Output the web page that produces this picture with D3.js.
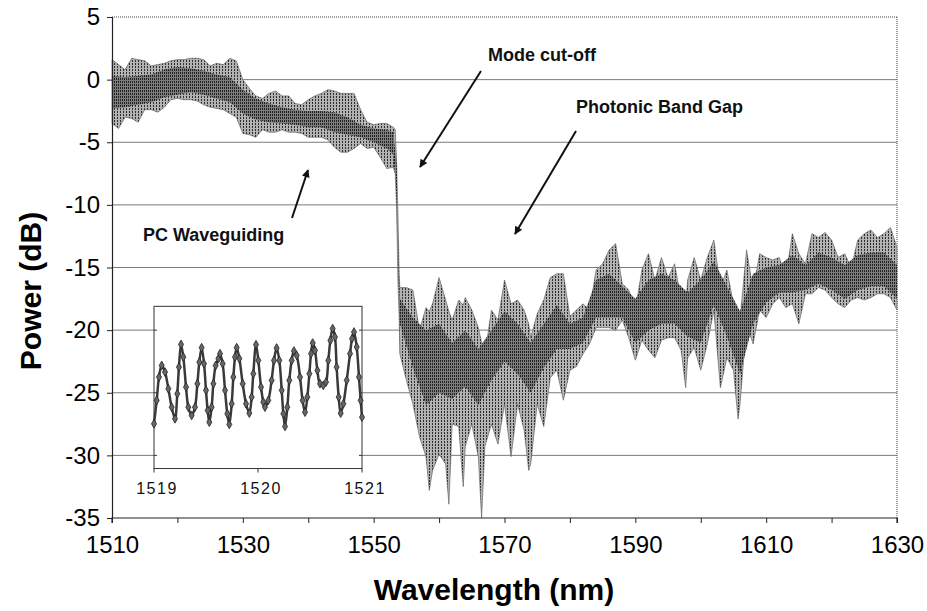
<!DOCTYPE html>
<html>
<head>
<meta charset="utf-8">
<script src="https://cdn.jsdelivr.net/npm/d3@7"></script>
<style>
  body { margin: 0; background: #fff; }
  svg text { font-family: "Liberation Sans", Arial, Helvetica, sans-serif; }
</style>
</head>
<body>
<svg id="chart"></svg>
<script>
// spectrum envelope (upper / lower edge of the fringe band)
const wavelength = [1510,1511,1512,1513,1514,1515,1516,1517,1518,1519,1520,1521,1522,1523,1524,1525,1526,1527,1528,1529,
  1530,1531,1532,1533,1534,1535,1536,1537,1538,1539,1540,1541,1542,1543,1544,1545,1546,1547,1548,1549,1550,1551,1552,1553,
  1553.3,1553.5,1553.7,1553.9,1554,1555,1556,1557,1558,1558.5,1559,1560,1561,1561.5,1562,1563,1563.7,1564,1565,1566,1566.5,
  1567,1568,1569,1570,1571,1572,1573,1573.7,1574,1575,1576,1577,1578,1579,1580,1581,1582,1583,1584,1585,1586,1587,1588,1589,
  1590,1591,1592,1593,1594,1595,1596,1597,1597.7,1598,1599,1600,1601,1602,1603,1604,1605,1605.7,1606,1607,1608,1609,1610,
  1611,1612,1613,1614,1615,1616,1617,1618,1619,1620,1621,1622,1623,1624,1625,1626,1627,1628,1629,1630];
const powerHi = [1.6,1.2,0.8,1.7,1.6,1.5,1.1,1.2,1.3,1.5,1.6,1.6,1.7,1.7,1.6,1.1,1.3,1.2,1.7,1.5,
  0.0,-0.7,-1.3,-1.5,-1.1,-0.9,-1.3,-1.3,-1.9,-2.0,-1.6,-1.3,-1.1,-0.8,-0.9,-1.1,-1.1,-1.1,-2.4,-3.4,-3.6,-3.5,-3.5,-3.8,
  -4.0,-6.5,-10.5,-15.5,-16.6,-16.6,-16.8,-20.0,-18.2,-18.5,-17.9,-15.8,-17.6,-18.5,-19.2,-17.6,-18.0,-17.4,-18.4,-19.8,-21.0,
  -22.0,-18.4,-19.2,-16.0,-17.9,-17.6,-18.4,-19.5,-20.6,-18.7,-17.6,-15.8,-15.5,-15.5,-18.9,-18.4,-17.9,-18.4,-15.2,-14.7,-13.6,-13.1,-16.3,-16.8,
  -18.4,-15.2,-13.9,-16.0,-14.2,-15.8,-14.7,-17.6,-18.0,-16.0,-14.2,-16.0,-14.2,-12.8,-16.6,-15.2,-17.9,-19.0,-19.2,-13.6,-16.8,-13.9,-14.2,
  -14.4,-14.2,-15.8,-12.3,-13.9,-14.7,-12.3,-12.6,-12.2,-12.8,-14.2,-13.9,-15.0,-12.8,-12.3,-12.0,-12.6,-12.3,-11.8,-13.4];
const powerLo = [-3.5,-3.9,-3.0,-3.1,-3.4,-2.4,-2.4,-2.6,-2.2,-1.6,-1.5,-1.6,-1.6,-1.7,-2.0,-2.2,-2.3,-2.4,-2.7,-3.0,
  -4.3,-4.4,-4.6,-4.0,-4.2,-4.2,-4.0,-4.2,-4.2,-4.3,-4.6,-4.6,-4.6,-4.8,-5.4,-5.8,-5.8,-5.5,-5.1,-5.5,-5.4,-6.2,-7.1,-7.0,
  -7.5,-10.0,-16.0,-19.0,-21.9,-24.0,-25.9,-28.5,-30.1,-32.8,-31.2,-29.9,-30.7,-33.9,-27.5,-27.7,-32.5,-29.3,-27.5,-30.1,-35.0,
  -29.3,-27.5,-29.1,-25.9,-30.1,-25.9,-28.0,-31.2,-30.7,-25.9,-27.7,-23.8,-23.2,-25.6,-23.2,-22.9,-21.9,-21.1,-19.8,-19.8,-19.8,-20.0,-19.2,-20.6,
  -22.4,-20.8,-21.6,-22.2,-20.8,-20.6,-20.6,-21.6,-24.6,-22.2,-21.4,-23.2,-21.1,-18.4,-24.6,-22.2,-23.2,-27.1,-25.9,-19.5,-21.1,-18.4,-19.0,
  -17.9,-17.4,-18.2,-17.9,-19.5,-17.1,-17.1,-16.6,-16.8,-17.4,-17.9,-18.2,-17.6,-17.4,-17.6,-17.4,-17.1,-17.1,-17.4,-18.4];

// dense core of the trace, where the fringes overlap
const coreWavelength = [1510,1512,1514,1516,1518,1520,1522,1524,1526,1528,1530,1532,1534,1536,1538,1540,1542,1544,1546,1548,
  1550,1552,1553,1553.5,1553.9,1554,1556,1558,1560,1562,1564,1566,1568,1570,1572,1574,1576,1578,1580,1582,1584,1586,1588,1590,
  1592,1594,1596,1598,1600,1602,1604,1606,1608,1610,1612,1614,1616,1618,1620,1622,1624,1626,1628,1630];
const coreHi = [0.3,0.2,0.3,0.4,0.8,1.0,0.9,0.7,0.4,0.2,-0.8,-1.5,-1.9,-2.2,-2.4,-2.5,-2.5,-2.6,-3.0,-3.6,
  -3.9,-4.0,-4.2,-6.8,-16.5,-17.5,-19.0,-20.0,-19.5,-21.0,-20.0,-21.5,-20.0,-18.5,-19.5,-21.0,-19.5,-18.0,-19.5,-19.0,-16.0,-15.5,-16.5,-17.5,
  -16.0,-15.5,-16.0,-17.0,-16.0,-14.5,-16.5,-18.5,-15.5,-15.0,-14.8,-14.0,-14.8,-13.8,-14.2,-14.8,-14.0,-13.8,-13.8,-14.8];
const coreLo = [-2.3,-2.2,-2.0,-1.8,-1.4,-1.2,-1.0,-1.2,-1.5,-1.8,-2.7,-3.2,-3.4,-3.5,-3.6,-3.8,-3.8,-4.2,-4.4,-4.6,
  -5.0,-5.5,-6.0,-9.0,-18.0,-19.5,-23.0,-26.0,-25.0,-25.5,-24.5,-26.0,-24.0,-22.5,-23.5,-25.0,-23.0,-21.5,-21.5,-21.0,-19.0,-19.0,-19.0,-21.0,
  -20.0,-19.5,-19.5,-20.5,-21.0,-18.0,-20.5,-23.5,-19.5,-17.8,-17.0,-17.0,-16.8,-16.3,-16.8,-17.5,-16.8,-16.5,-16.5,-17.5];

// inset: close-up of the fringes between 1519 and 1521 nm
const insetWavelength = [1519.000,1519.026,1519.048,1519.074,1519.106,1519.138,1519.170,1519.202,1519.224,1519.240,1519.260,
  1519.282,1519.308,1519.330,1519.362,1519.394,1519.417,1519.436,1519.458,1519.481,1519.500,1519.516,1519.532,1519.554,1519.571,
  1519.593,1519.619,1519.635,1519.660,1519.683,1519.705,1519.724,1519.747,1519.763,1519.779,1519.795,1519.821,1519.853,1519.885,
  1519.917,1519.939,1519.955,1519.981,1520.003,1520.029,1520.051,1520.067,1520.099,1520.131,1520.154,1520.179,1520.205,1520.228,
  1520.244,1520.260,1520.282,1520.301,1520.324,1520.346,1520.372,1520.404,1520.429,1520.452,1520.474,1520.494,1520.510,1520.526,
  1520.548,1520.571,1520.596,1520.628,1520.654,1520.676,1520.696,1520.718,1520.740,1520.756,1520.776,1520.795,1520.821,1520.853,
  1520.885,1520.904,1520.923,1520.949,1520.971,1520.987,1521.000];
const insetPower = [-27.48,-25.61,-23.75,-22.82,-23.35,-24.68,-26.15,-27.08,-25.08,-22.95,-21.14,
  -22.15,-24.55,-26.15,-26.81,-26.15,-24.28,-22.55,-21.40,-22.68,-24.81,-26.41,-27.35,-26.15,-24.28,
  -22.82,-22.28,-21.88,-22.68,-24.81,-26.68,-27.53,-25.88,-23.75,-22.15,-21.40,-22.28,-24.28,-25.88,
  -26.63,-25.35,-23.48,-21.16,-22.42,-24.55,-25.75,-26.15,-25.61,-24.01,-22.42,-21.43,-22.42,-24.81,
  -26.68,-27.69,-26.15,-24.01,-22.42,-21.67,-22.02,-23.75,-25.61,-26.55,-25.35,-23.48,-21.88,-21.03,
  -21.62,-23.22,-24.28,-24.41,-24.15,-22.42,-20.82,-19.88,-20.55,-22.95,-25.35,-26.63,-25.88,-24.01,
  -21.88,-20.68,-20.15,-21.35,-23.75,-25.61,-26.95];

const yTicks = [-35,-30,-25,-20,-15,-10,-5,0,5];
const xTicks = [1510,1520,1530,1540,1550,1560,1570,1580,1590,1600,1610,1620,1630];
const xLabels = [1510,1530,1550,1570,1590,1610,1630];
const insetTicks = [1519,1520,1521];

const annotations = [
  {text: "Mode cut-off", tx: 488, ty: 61, from: [481, 71], to: [420, 167]},
  {text: "Photonic Band Gap", tx: 576, ty: 113, from: [576, 131], to: [515, 234]},
  {text: "PC Waveguiding", tx: 143, ty: 241, from: [292, 218], to: [308, 170]}
];

const width = 927, height = 611;
const plot = {left: 112, right: 897, top: 17, bottom: 518};
const insetBox = {left: 154, right: 362, top: -18.1, bottom: -31.05};

const svg = d3.select("#chart").attr("width", width).attr("height", height);
svg.append("rect").attr("width", width).attr("height", height).attr("fill", "#fff");

const x = d3.scaleLinear().domain([1510, 1630]).range([plot.left, plot.right]);
const y = d3.scaleLinear().domain([-35, 5]).range([plot.bottom, plot.top]);

const defs = svg.append("defs");
// sparse texture for the fringe spikes, denser one for the core
const outerPat = defs.append("pattern").attr("id", "fringe")
  .attr("patternUnits", "userSpaceOnUse").attr("width", 3).attr("height", 3);
outerPat.append("rect").attr("width", 3).attr("height", 3).attr("fill", "#b2b2b2");
outerPat.append("rect").attr("width", 1).attr("height", 2).attr("fill", "#2e2e2e");
const corePat = defs.append("pattern").attr("id", "core")
  .attr("patternUnits", "userSpaceOnUse").attr("width", 2).attr("height", 3);
corePat.append("rect").attr("width", 2).attr("height", 3).attr("fill", "#7c7c7c");
corePat.append("rect").attr("width", 1).attr("height", 2).attr("fill", "#222");
defs.append("marker").attr("id", "head")
  .attr("viewBox", "0 0 10 10").attr("refX", 9).attr("refY", 5)
  .attr("markerWidth", 11).attr("markerHeight", 8).attr("markerUnits", "userSpaceOnUse")
  .attr("orient", "auto")
  .append("path").attr("d", "M0,0L10,5L0,10z").attr("fill", "#111");

// grid
svg.append("g").selectAll("line")
  .data(yTicks.filter(v => v > -35 && v < 5))
  .join("line")
  .attr("x1", plot.left).attr("x2", plot.right)
  .attr("y1", d => y(d)).attr("y2", d => y(d))
  .attr("stroke", "#7a7a7a").attr("stroke-width", 1);
svg.append("line").attr("x1", plot.left).attr("x2", plot.right)
  .attr("y1", y(5)).attr("y2", y(5))
  .attr("stroke", "#444").attr("stroke-dasharray", "1,1");
svg.append("line").attr("x1", plot.right).attr("x2", plot.right)
  .attr("y1", plot.top).attr("y2", plot.bottom)
  .attr("stroke", "#444").attr("stroke-dasharray", "1,1");

// spectrum band
const spec = wavelength.map((w, i) => ({w, hi: powerHi[i], lo: powerLo[i]}));
svg.append("path").datum(spec)
  .attr("d", d3.area().x(d => x(d.w)).y0(d => y(d.lo)).y1(d => y(d.hi)))
  .attr("fill", "url(#fringe)")
  .attr("stroke", "#555").attr("stroke-width", 0.6);
const core = coreWavelength.map((w, i) => ({w, hi: coreHi[i], lo: coreLo[i]}));
svg.append("path").datum(core)
  .attr("d", d3.area().x(d => x(d.w)).y0(d => y(d.lo)).y1(d => y(d.hi)))
  .attr("fill", "url(#core)");

// axes
const yAxis = svg.append("g").attr("transform", `translate(${plot.left},0)`)
  .call(d3.axisLeft(y).tickValues(yTicks).tickSize(5).tickPadding(7).tickFormat(d => String(d)));
const xAxis = svg.append("g").attr("transform", `translate(0,${plot.bottom})`)
  .call(d3.axisBottom(x).tickValues(xTicks).tickSize(5).tickPadding(14)
    .tickFormat(d => xLabels.includes(d) ? String(d) : ""));
[yAxis, xAxis].forEach(g => {
  g.select(".domain").attr("stroke", "#222").attr("stroke-width", 1.2);
  g.selectAll(".tick line").attr("stroke", "#222");
  g.selectAll("text").attr("font-size", 24).attr("fill", "#000")
    .style("font-family", "'Liberation Sans', Arial, sans-serif");
});
xAxis.selectAll("text").attr("dy", 0).attr("y", 35);
xAxis.select(".domain").attr("d", `M${plot.left},5V0H${plot.right}V5`);

// inset
const ix = d3.scaleLinear().domain([1519, 1521]).range([insetBox.left, insetBox.right]);
const inset = svg.append("g");
inset.append("rect")
  .attr("x", insetBox.left).attr("y", y(insetBox.top))
  .attr("width", insetBox.right - insetBox.left).attr("height", y(insetBox.bottom) - y(insetBox.top))
  .attr("fill", "#fff").attr("stroke", "#333").attr("stroke-width", 1);
inset.append("g").selectAll("line").data([-20, -25, -30]).join("line")
  .attr("x1", insetBox.left).attr("x2", insetBox.left + 3)
  .attr("y1", d => y(d)).attr("y2", d => y(d)).attr("stroke", "#333");
inset.append("g").selectAll("line").data([-20, -25, -30]).join("line")
  .attr("x1", insetBox.right - 3).attr("x2", insetBox.right)
  .attr("y1", d => y(d)).attr("y2", d => y(d)).attr("stroke", "#333");
inset.append("g").selectAll("line").data(insetTicks).join("line")
  .attr("x1", d => ix(d)).attr("x2", d => ix(d))
  .attr("y1", y(insetBox.bottom)).attr("y2", y(insetBox.bottom) + 4).attr("stroke", "#333");
inset.append("g").selectAll("text").data(insetTicks).join("text")
  .attr("x", d => ix(d) + 3).attr("y", 494)
  .attr("text-anchor", "middle").attr("font-size", 16).attr("letter-spacing", 1.5)
  .attr("fill", "#111").text(d => d);
const insetData = insetWavelength.map((w, i) => ({w, p: insetPower[i]}));
inset.append("path").datum(insetData)
  .attr("d", d3.line().x(d => ix(d.w)).y(d => y(d.p)).curve(d3.curveCatmullRom))
  .attr("fill", "none").attr("stroke", "#3a3a3a").attr("stroke-width", 2.5);
inset.append("g").selectAll("path").data(insetData).join("path")
  .attr("transform", d => `translate(${ix(d.w)},${y(d.p)})`)
  .attr("d", d3.symbol(d3.symbolDiamond, 22))
  .attr("fill", "#666").attr("stroke", "#222").attr("stroke-width", 0.8);

// annotations
const ann = svg.append("g");
ann.selectAll("text").data(annotations).join("text")
  .attr("x", d => d.tx).attr("y", d => d.ty)
  .attr("font-size", 18).attr("font-weight", "bold").attr("fill", "#111")
  .text(d => d.text);
ann.selectAll("line").data(annotations).join("line")
  .attr("x1", d => d.from[0]).attr("y1", d => d.from[1])
  .attr("x2", d => d.to[0]).attr("y2", d => d.to[1])
  .attr("stroke", "#111").attr("stroke-width", 2).attr("marker-end", "url(#head)");

// axis titles
svg.append("text").attr("x", 494).attr("y", 600)
  .attr("text-anchor", "middle").attr("font-size", 30).attr("font-weight", "bold")
  .text("Wavelength (nm)");
svg.append("text").attr("transform", "translate(41,291) rotate(-90)")
  .attr("text-anchor", "middle").attr("font-size", 30).attr("font-weight", "bold")
  .text("Power (dB)");
</script>
</body>
</html>
